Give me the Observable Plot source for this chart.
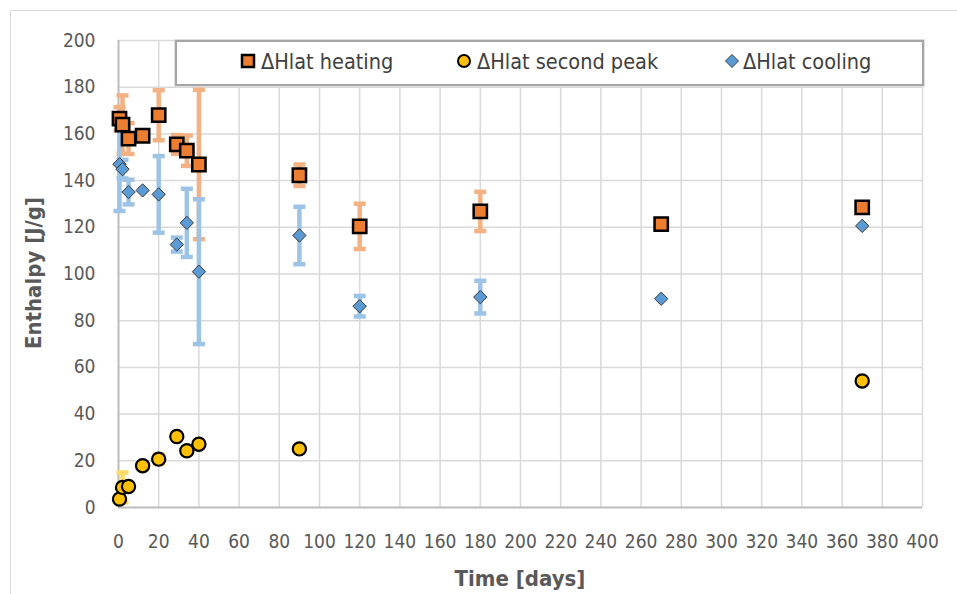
<!DOCTYPE html>
<html>
<head>
<meta charset="utf-8">
<script src="https://cdn.jsdelivr.net/npm/d3@7"></script>
<script src="https://cdn.jsdelivr.net/npm/@observablehq/plot@0.6"></script>
<style>
  html, body { margin: 0; padding: 0; background: #fff; }
  #wrap { position: relative; width: 957px; height: 594px; overflow: hidden;
    font-family: "DejaVu Sans Condensed", "Liberation Sans", sans-serif; }
  #border { position: absolute; left: 10px; top: 10px; width: 980px; height: 620px; border: 1px solid #d9d9d9; }
  #chart { position: absolute; left: 0; top: 0; }
  .title { position: absolute; font-weight: bold; color: #595959; font-size: 22px; white-space: nowrap; }
  #legend { position: absolute; left: 175px; top: 40px; width: 745px; height: 42px; background: #fff;
    border: 2px solid #a6a6a6; box-shadow: 0 0 0 1px #e0e0e0; font-size: 21.5px; color: #404040; }
  .sym { position: absolute; top: 11px; line-height: 0; }
  .txt { position: absolute; top: 7px; white-space: nowrap; }
</style>
</head>
<body>
<div id="wrap">
  <div id="border"></div>
  <div id="chart"></div>
  <div id="legend"></div>
  <div class="title" id="ytitle">Enthalpy [J/g]</div>
  <div class="title" id="xtitle">Time [days]</div>
</div>
<script>
// ---- data ----
const xTicks = [0,20,40,60,80,100,120,140,160,180,200,220,240,260,280,300,320,340,360,380,400];
const yTicks = [0,20,40,60,80,100,120,140,160,180,200];

const heatDays = [0.5, 2, 5, 12, 20, 29, 34, 40, 90, 120, 180, 270, 370];
const heatVals = [166.5, 164, 158, 159.2, 168, 155.5, 152.8, 146.9, 142.3, 120.4, 126.8, 121.4, 128.5];
const heatErr  = [5, 12.5, 6.6, 0, 10.7, 4, 6.5, 32, 4.6, 9.7, 8.4, 2, 0];

const peakDays = [0.5, 2, 5, 12, 20, 29, 34, 40, 90, 370];
const peakVals = [3.6, 8.6, 9.0, 17.9, 20.7, 30.4, 24.3, 27.1, 25.1, 54.2];
const peakErr  = [1, 6.4, 0, 0, 2, 0, 0, 0, 0, 0];

const coolDays = [0.5, 2, 5, 12, 20, 29, 34, 40, 90, 120, 180, 270, 370];
const coolVals = [147, 144.9, 135.1, 135.8, 134.1, 112.6, 121.9, 101, 116.5, 86.2, 90.1, 89.4, 120.6];
const coolErr  = [20, 4, 5.3, 0, 16.4, 3, 14.6, 31, 12.3, 4.4, 7, 0, 0];

const seriesNames = ["ΔHlat heating", "ΔHlat second peak", "ΔHlat cooling"];

// ---- build tables ----
const mk = (days, vals, errs) => days.map((d, i) => ({x: d, y: vals[i], lo: vals[i] - errs[i], hi: vals[i] + errs[i], e: errs[i]}));
const heat = mk(heatDays, heatVals, heatErr);
const peak = mk(peakDays, peakVals, peakErr);
const cool = mk(coolDays, coolVals, coolErr);

const cap = { draw(ctx, size) { const w = Math.sqrt(size); ctx.moveTo(-w, 0); ctx.lineTo(w, 0); } };

function errMarks(data, color) {
  const d = data.filter(v => v.e > 0);
  return [
    Plot.ruleX(d, {x: "x", y1: "lo", y2: "hi", stroke: color, strokeWidth: 4.5}),
    Plot.dot(d, {x: "x", y: "lo", symbol: cap, r: 3.4, stroke: color, fill: "none", strokeWidth: 4.5}),
    Plot.dot(d, {x: "x", y: "hi", symbol: cap, r: 3.4, stroke: color, fill: "none", strokeWidth: 4.5})
  ];
}

const chart = Plot.plot({
  width: 957, height: 594,
  marginLeft: 118, marginRight: 35, marginTop: 40, marginBottom: 87,
  x: {domain: [0, 400]},
  y: {domain: [0, 200]},
  style: {fontFamily: "'DejaVu Sans Condensed', 'Liberation Sans', sans-serif", fontSize: "19px", color: "#595959", background: "transparent"},
  marks: [
    Plot.ruleX(xTicks, {stroke: "#d9d9d9", strokeWidth: 1.5}),
    Plot.ruleY(yTicks, {stroke: "#d9d9d9", strokeWidth: 1.5}),
    Plot.ruleX([0], {stroke: "#bfbfbf", strokeWidth: 2}),
    Plot.ruleY([0], {stroke: "#bfbfbf", strokeWidth: 2}),
    Plot.axisX({ticks: xTicks, tickSize: 0, tickPadding: 27, label: null, fill: "#595959"}),
    Plot.axisY({ticks: yTicks, tickSize: 0, tickPadding: 23, label: null, fill: "#595959"}),
    ...errMarks(heat, "#F4B183"),
    ...errMarks(peak, "#FFD966"),
    ...errMarks(cool, "#9DC3E6"),
    Plot.dot(heat, {x: "x", y: "y", symbol: "square", r: 7.5, fill: "#ED7D31", stroke: "#000", strokeWidth: 2.5}),
    Plot.dot(peak, {x: "x", y: "y", symbol: "circle", r: 6.6, fill: "#FFC000", stroke: "#000", strokeWidth: 2.2}),
    Plot.dot(cool, {x: "x", y: "y", symbol: "diamond2", r: 6, fill: "#5B9BD5", stroke: "#3a3a3a", strokeWidth: 1})
  ]
});
document.getElementById("chart").appendChild(chart);

// ---- legend ----
const legend = document.getElementById("legend");
const sym = [
  `<svg width="16" height="16"><rect x="2" y="2" width="12" height="12" fill="#ED7D31" stroke="#000" stroke-width="2.5"/></svg>`,
  `<svg width="16" height="16"><circle cx="8" cy="8" r="6" fill="#FFC000" stroke="#000" stroke-width="2"/></svg>`,
  `<svg width="16" height="16"><path d="M8,1.5 L14.5,8 L8,14.5 L1.5,8Z" fill="#5B9BD5" stroke="#3a3a3a" stroke-width="1"/></svg>`
];
const symLefts = [63, 279, 547];
const txtLefts = [84, 300, 566];
seriesNames.forEach((n, i) => {
  const s = document.createElement("div");
  s.className = "sym"; s.style.left = symLefts[i] + "px"; s.innerHTML = sym[i];
  legend.appendChild(s);
  const t = document.createElement("div");
  t.className = "txt"; t.style.left = txtLefts[i] + "px"; t.textContent = n;
  legend.appendChild(t);
});

// ---- axis titles ----
const yt = document.getElementById("ytitle");
yt.style.left = "33px"; yt.style.top = "273px";
yt.style.transform = "translate(-50%, -50%) rotate(-90deg)";
const xt = document.getElementById("xtitle");
xt.style.left = "520px"; xt.style.top = "578px";
xt.style.transform = "translate(-50%, -50%)";
</script>
</body>
</html>
